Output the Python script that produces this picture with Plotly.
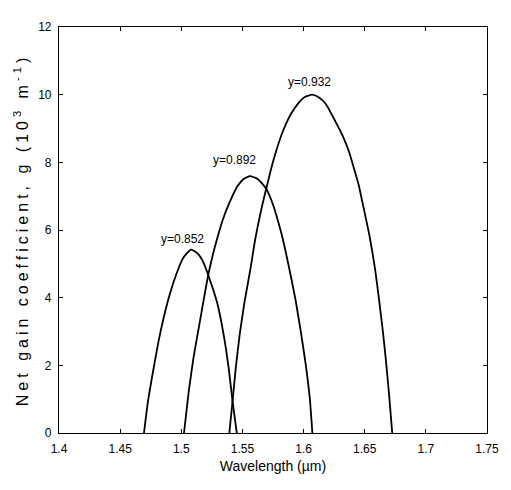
import plotly.graph_objects as go

# gamma = 0.852
wl_852 = [1.4695, 1.4727, 1.4773, 1.4823, 1.4885, 1.4960, 1.5020, 1.5080,
          1.5135, 1.5180, 1.5225, 1.5295, 1.5348, 1.5388, 1.5420, 1.5454]
g_852 = [0.0, 0.92, 1.90, 2.87, 3.83, 4.70, 5.20, 5.42,
         5.30, 5.05, 4.62, 3.83, 2.87, 1.90, 0.92, 0.0]

# gamma = 0.892
wl_892 = [1.5022, 1.5060, 1.5100, 1.5148, 1.5201, 1.5225, 1.5260, 1.5300,
          1.5340, 1.5393, 1.5460, 1.5510, 1.5562, 1.5615, 1.5660, 1.5694, 1.5740, 1.5820,
          1.5880, 1.5934, 1.5979, 1.6019, 1.6051, 1.6072]
g_892 = [0.0, 1.20, 2.23, 3.21, 4.30, 4.75, 5.30, 5.83,
         6.31, 6.80, 7.30, 7.51, 7.59, 7.53, 7.38, 7.22, 6.85, 5.88,
         4.91, 3.94, 2.96, 1.99, 1.02, 0.0]

# gamma = 0.932
wl_932 = [1.5393, 1.5420, 1.5446, 1.5478, 1.5518, 1.5566, 1.5606, 1.5660, 1.5700,
          1.5745, 1.5790, 1.5840, 1.5900, 1.5960, 1.6010, 1.6070, 1.6120,
          1.6179, 1.6259, 1.6320, 1.6373, 1.6413, 1.6451, 1.6480, 1.6539, 1.6584,
          1.6619, 1.6651, 1.6679, 1.6703, 1.6725]
g_932 = [0.0, 0.97, 1.94, 2.92, 3.89, 4.86, 5.75, 6.70, 7.30,
         7.95, 8.50, 9.00, 9.45, 9.76, 9.93, 10.00, 9.93,
         9.74, 9.22, 8.78, 8.30, 7.81, 7.33, 6.84, 5.83, 4.86,
         3.89, 2.92, 1.94, 0.97, 0.0]

labels = ["y=0.852", "y=0.892", "y=0.932"]
label_x = [1.5007, 1.5438, 1.6046]
label_y = [5.72, 8.06, 10.36]

x_ticks = [1.4, 1.45, 1.5, 1.55, 1.6, 1.65, 1.7, 1.75]
x_tick_text = ["1.4", "1.45", "1.5", "1.55", "1.6", "1.65", "1.7", "1.75"]
y_ticks = [0, 2, 4, 6, 8, 10, 12]

FONT = "Liberation Sans, Arial, sans-serif"

fig = go.Figure()
for wl, g, name in [(wl_852, g_852, labels[0]), (wl_892, g_892, labels[1]), (wl_932, g_932, labels[2])]:
    fig.add_trace(go.Scatter(x=wl, y=g, mode="lines", name=name,
                             line=dict(color="black", width=1.8, shape="spline", smoothing=0.5),
                             showlegend=False))

for t, lx, ly in zip(labels, label_x, label_y):
    fig.add_annotation(x=lx, y=ly, text=t, showarrow=False,
                       font=dict(family=FONT, size=12, color="black"))

axis_common = dict(showgrid=False, zeroline=False, showline=True, linecolor="black",
                   linewidth=1.2, mirror="ticks", ticks="inside", ticklen=4,
                   tickcolor="black", tickfont=dict(family=FONT, size=12, color="black"))

fig.update_xaxes(range=[1.4, 1.75], tickvals=x_ticks, ticktext=x_tick_text,
                 ticklabelstandoff=4,
                 title=dict(text="Wavelength (µm)", standoff=6,
                            font=dict(family=FONT, size=14, color="black")),
                 **axis_common)
fig.update_yaxes(range=[0, 12], tickvals=y_ticks, ticklabelstandoff=4,
                 title=dict(text='<span style="letter-spacing:4px">Net gain coefficient, g (10<sup>3</sup> m<sup>-1</sup>)</span>',
                            standoff=5,
                            font=dict(family=FONT, size=16, color="black")),
                 **axis_common)

fig.update_layout(width=503, height=482, margin=dict(l=51, r=14, t=14, b=57),
                  plot_bgcolor="white", paper_bgcolor="white")

fig.write_html("out.html")
